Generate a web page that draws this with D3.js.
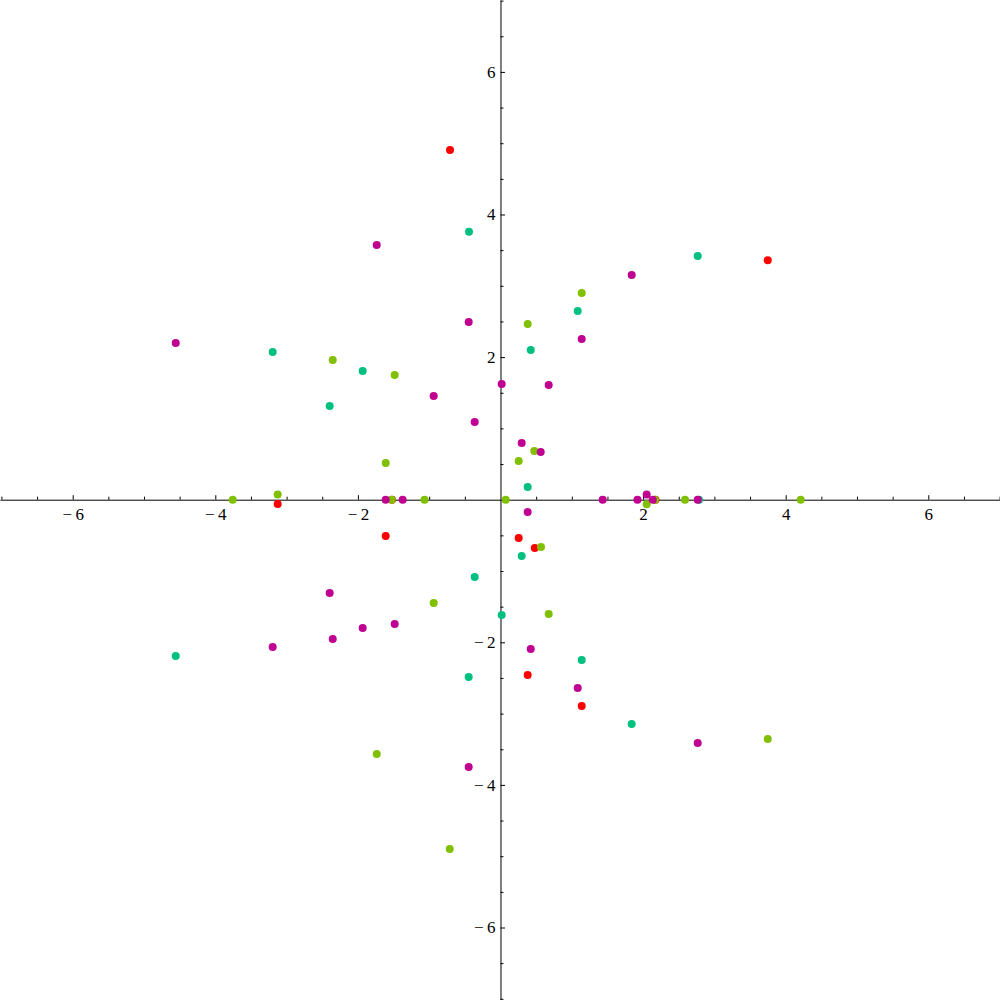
<!DOCTYPE html>
<html>
<head>
<meta charset="utf-8">
<script src="https://cdn.jsdelivr.net/npm/d3@7"></script>
<style>
  html, body { margin: 0; padding: 0; background: #fff; }
  svg text { font-family: 'Liberation Serif', 'DejaVu Serif', serif !important; font-size: 17px !important; }
</style>
</head>
<body>
<div id="chart"></div>
<script>
// points, one list per colour, [x, y]
var redPoints = [
  [-0.708, 4.905], [3.748, 3.358], [-3.125, -0.060], [-1.610, -0.509],
  [0.255, -0.537], [0.480, -0.677], [0.381, -2.459], [1.139, -2.893],
  [-1.522, 0], [2.174, 0]
];
var greenPoints = [
  [-0.712, -4.899], [3.748, -3.356], [-3.125, 0.072], [-1.610, 0.515],
  [0.255, 0.543], [0.474, 0.683], [0.381, 2.464], [1.139, 2.899],
  [-3.756, 0], [-1.526, 0], [-1.066, 0], [0.073, 0], [2.050, -0.065],
  [2.167, 0], [2.588, 0], [4.210, 0], [0.568, -0.663], [0.676, -1.603],
  [-0.937, -1.449], [-1.736, -3.567], [-2.353, 1.959], [-1.484, 1.749]
];
var tealPoints = [
  [-0.442, 3.757], [2.766, 3.418], [1.083, 2.647], [0.424, 2.100],
  [-3.195, 2.072], [-1.933, 1.805], [-2.396, 1.314], [0.381, 0.178],
  [0.297, -0.790], [-0.362, -1.084], [0.017, -1.617], [1.139, -2.248],
  [-4.555, -2.192], [-0.446, -2.487], [1.840, -3.146], [2.784, 0]
];
var magentaPoints = [
  [-1.736, 3.572], [1.840, 3.152], [-0.446, 2.492], [1.139, 2.254],
  [-4.555, 2.198], [0.017, 1.623], [0.676, 1.609], [-0.937, 1.454],
  [-0.362, 1.090], [0.297, 0.795], [0.564, 0.669], [0.381, -0.173],
  [-2.396, -1.309], [-1.484, -1.743], [-1.933, -1.799], [-2.353, -1.954],
  [-3.195, -2.066], [0.424, -2.094], [1.083, -2.641], [2.766, -3.412],
  [-0.446, -3.749], [-1.610, 0], [-1.372, 0], [1.433, 0], [1.921, 0],
  [2.050, 0.072], [2.135, 0], [2.766, 0]
];

var seriesColors = ["#ff0000", "#80c000", "#00c080", "#c00090"];
var majorTicks = [-6, -4, -2, 2, 4, 6];
var minorTicks = [-7, -6.5, -5.5, -5, -4.5, -3.5, -3, -2.5, -1.5, -1, -0.5,
                  0.5, 1, 1.5, 2.5, 3, 3.5, 4.5, 5, 5.5, 6.5, 7];

function drawChart() {
    var width = 1000, height = 1000;
    var svg = d3.select('#chart').append('svg')
        .attr('width', width)
        .attr('height', height);

    var x = d3.scaleLinear().domain([-7.0196, 7.0056]).range([0, width]);
    var y = d3.scaleLinear().domain([-7.0168, 7.0084]).range([height, 0]);

    function label(d) {
        return d < 0 ? "\u2212\u2009" + Math.abs(d) : String(d);
    }

    // x axis, ticks pointing up, labels underneath
    var gx = svg.append('g').attr('transform', 'translate(0,' + y(0) + ')');
    gx.call(d3.axisBottom(x).tickValues(minorTicks).tickSize(-3).tickSizeOuter(0).tickFormat(''));
    gx.append('g').call(d3.axisBottom(x).tickValues(majorTicks).tickSize(-4.5).tickSizeOuter(0)
        .tickPadding(8).tickFormat(label));

    // y axis, ticks pointing right, labels to the left
    var gy = svg.append('g').attr('transform', 'translate(' + x(0) + ',0)');
    gy.call(d3.axisLeft(y).tickValues(minorTicks).tickSize(-3).tickSizeOuter(0).tickFormat(''));
    gy.append('g').call(d3.axisLeft(y).tickValues(majorTicks).tickSize(-4.5).tickSizeOuter(0)
        .tickPadding(5).tickFormat(label));

    svg.selectAll('g').attr('font-family', null).attr('font-size', null);
    svg.selectAll('.domain').attr('stroke', '#000').attr('stroke-width', 1);
    svg.selectAll('.tick line').attr('stroke', '#000');
    svg.selectAll('.tick text').attr('fill', '#000');
    gx.selectAll('g g .domain').remove();
    gy.selectAll('g g .domain').remove();

    var allSeries = [redPoints, greenPoints, tealPoints, magentaPoints];
    allSeries.forEach(function(points, i) {
        svg.append('g')
            .selectAll('circle')
            .data(points)
            .enter()
            .append('circle')
            .attr('cx', function(d) { return x(d[0]); })
            .attr('cy', function(d) { return y(d[1]); })
            .attr('r', 4)
            .attr('fill', seriesColors[i]);
    });
}

drawChart();
</script>
</body>
</html>
